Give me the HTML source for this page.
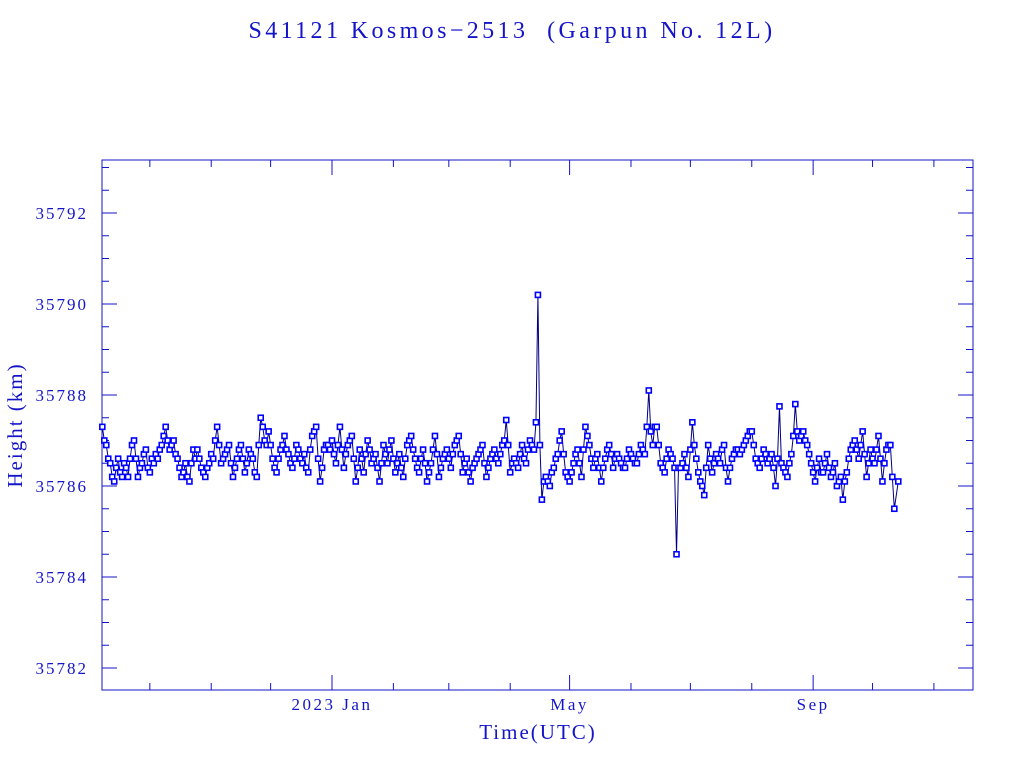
<!DOCTYPE html>
<html><head><meta charset="utf-8"><style>
html,body{margin:0;padding:0;background:#fff;}
svg text{font-family:"Liberation Serif",serif;fill:#1414c8;}
</style></head><body>
<svg id="chart" width="1024" height="768" xmlns="http://www.w3.org/2000/svg">
<text x="512" y="38" text-anchor="middle" font-size="24" letter-spacing="3.4" style="white-space:pre">S41121 Kosmos−2513  (Garpun No. 12L)</text>
<text x="538" y="739" text-anchor="middle" font-size="21" letter-spacing="2">Time(UTC)</text>
<text transform="translate(22,425) rotate(-90)" text-anchor="middle" font-size="21" letter-spacing="2">Height (km)</text>
<g id="plot"></g>
</svg>
<script>
const startDay = -116;   // days relative to 2023 Jan 1
const stepDays = 2;
const heights = [
35787.3,35786.9,35786.5,35786.1,35786.6,35786.2,35786.4,35786.6,35787.0,35786.2,
35786.5,35786.8,35786.3,35786.5,35786.6,35786.9,35787.3,35786.8,35787.0,35786.6,
35786.2,35786.5,35786.1,35786.8,35786.8,35786.4,35786.2,35786.5,35786.6,35787.3,
35786.5,35786.7,35786.9,35786.2,35786.6,35786.9,35786.3,35786.8,35786.6,35786.2,
35787.5,35787.0,35787.2,35786.6,35786.3,35786.8,35787.1,35786.7,35786.4,35786.9,
35786.6,35786.7,35786.3,35787.1,35787.3,35786.1,35786.8,35786.9,35787.0,35786.5,
35787.3,35786.4,35786.9,35787.1,35786.1,35786.8,35786.3,35787.0,35786.5,35786.7,
35786.1,35786.9,35786.5,35787.0,35786.3,35786.7,35786.2,35786.9,35787.1,35786.6,
35786.3,35786.8,35786.1,35786.5,35787.1,35786.2,35786.6,35786.8,35786.4,35786.9,
35787.1,35786.3,35786.6,35786.1,35786.5,35786.7,35786.9,35786.2,35786.6,35786.8,
35786.5,35786.9,35787.45,35786.3,35786.6,35786.4,35786.9,35786.5,35787.0,35786.8,
35790.2,35785.7,35786.2,35786.0,35786.4,35786.7,35787.2,35786.3,35786.1,35786.5,
35786.8,35786.2,35787.3,35786.9,35786.4,35786.7,35786.1,35786.6,35786.9,35786.4,
35786.7,35786.5,35786.4,35786.8,35786.6,35786.5,35786.9,35786.7,35788.1,35786.9,
35787.3,35786.5,35786.3,35786.8,35786.6,35784.5,35786.4,35786.7,35786.2,35787.4,
35786.6,35786.1,35785.8,35786.9,35786.3,35786.7,35786.5,35786.9,35786.1,35786.6,
35786.8,35786.7,35786.9,35787.1,35787.2,35786.6,35786.4,35786.8,35786.5,35786.7,
35786.0,35787.75,35786.4,35786.2,35786.7,35787.8,35787.0,35787.2,35786.9,35786.5,
35786.1,35786.6,35786.3,35786.7,35786.2,35786.5,35786.1,35785.7,35786.3,35786.8,
35787.0,35786.6,35787.2,35786.2,35786.8,35786.5,35787.1,35786.1,35786.8,35786.9,
35785.5,35786.1
];
// intermediate observations (odd days, startDay+1 + i*2)
const heightsOdd = [
35787.0,35786.6,35786.2,35786.4,35786.3,35786.5,35786.2,35786.9,35786.6,35786.4,
35786.7,35786.4,35786.6,35786.7,35786.8,35787.1,35787.0,35786.9,35786.7,35786.4,
35786.3,35786.2,35786.5,35786.6,35786.6,35786.3,35786.4,35786.7,35787.0,35786.9,
35786.6,35786.8,35786.5,35786.4,35786.8,35786.6,35786.5,35786.7,35786.3,35786.9,
35787.3,35786.9,35786.9,35786.4,35786.6,35786.9,35786.8,35786.5,35786.6,35786.8,
35786.5,35786.4,35786.8,35787.2,35786.6,35786.4,35786.9,35786.8,35786.7,35786.9,
35786.8,35786.7,35787.0,35786.6,35786.4,35786.6,35786.7,35786.8,35786.6,35786.4,
35786.5,35786.7,35786.8,35786.6,35786.5,35786.4,35786.6,35787.0,35786.8,35786.4,
35786.6,35786.5,35786.3,35786.8,35786.7,35786.4,35786.7,35786.6,35786.7,35787.0,
35786.7,35786.5,35786.3,35786.4,35786.6,35786.8,35786.5,35786.4,35786.7,35786.6,
35786.7,35787.0,35786.9,35786.5,35786.5,35786.7,35786.6,35786.8,35786.9,35787.4,
35786.9,35786.1,35786.1,35786.3,35786.6,35787.0,35786.7,35786.2,35786.3,35786.7,
35786.5,35786.8,35787.1,35786.6,35786.6,35786.4,35786.4,35786.8,35786.7,35786.6,
35786.6,35786.4,35786.6,35786.7,35786.5,35786.7,35786.8,35787.3,35787.2,35787.3,
35786.9,35786.4,35786.6,35786.7,35786.4,35786.4,35786.5,35786.4,35786.8,35786.9,
35786.3,35786.0,35786.4,35786.6,35786.5,35786.6,35786.8,35786.4,35786.4,35786.7,
35786.8,35786.8,35787.0,35787.2,35786.9,35786.5,35786.6,35786.7,35786.6,35786.4,
35786.6,35786.5,35786.3,35786.5,35787.1,35787.2,35787.1,35787.0,35786.7,35786.3,
35786.4,35786.3,35786.5,35786.4,35786.3,35786.0,35786.2,35786.1,35786.6,35786.9,
35786.8,35786.9,35786.7,35786.5,35786.6,35786.8,35786.6,35786.5,35786.9,35786.2
];
const yTicks = [35782,35784,35786,35788,35790,35792];
const xMajorLabels = ["2023 Jan","May","Sep"];
const xMajorDays = [0,120,243];
const monthDays = [-92,-61,-31,0,31,59,90,120,151,181,212,243,273,304];

const L=102,R=973,T=160,B=690;
const x0=332, pxPerDay=1.98;
const yAt35792=213, pxPerKm=45.5;
const X=d=>x0+d*pxPerDay;
const Y=v=>yAt35792+(35792-v)*pxPerKm;
const NS="http://www.w3.org/2000/svg";
const g=document.getElementById('plot');
function mk(tag,attrs){const e=document.createElementNS(NS,tag);for(const k in attrs)e.setAttribute(k,attrs[k]);g.appendChild(e);return e;}
const C="#1414c8";

const frame=mk('rect',{x:L,y:T,width:R-L,height:B-T,fill:'none',stroke:C,'stroke-width':1});



for(let v=35781.5; v<=35793.1; v+=0.5){
  const y=Y(v); if(y<T||y>B) continue;
  const major=Math.abs(v-Math.round(v/2)*2)<1e-6;
  const len=major?15:7;
  const t1=mk('line',{x1:L,y1:y,x2:L+len,y2:y,stroke:C});
  
  
  const t2=mk('line',{x1:R,y1:y,x2:R-len,y2:y,stroke:C});
  
  
}
yTicks.forEach(v=>{
  const t=mk('text',{x:88,y:Y(v)+6,'text-anchor':'end','font-size':17,'letter-spacing':2});
  t.textContent=v;
  
  
});
monthDays.forEach(d=>{
  const x=X(d); const major=xMajorDays.includes(d); const len=major?15:7;
  const t1=mk('line',{x1:x,y1:B,x2:x,y2:B-len,stroke:C});
  
  
  const t2=mk('line',{x1:x,y1:T,x2:x,y2:T+len,stroke:C});
  
  
});
xMajorLabels.forEach((s,i)=>{
  const t=mk('text',{x:X(xMajorDays[i]),y:710,'text-anchor':'middle','font-size':17,'letter-spacing':2.5});
  t.textContent=s;
  
  
});

const series=[];
heights.forEach((v,i)=>series.push([startDay+i*stepDays,v]));
heightsOdd.forEach((v,i)=>series.push([startDay+1+i*stepDays,v]));
series.sort((a,b)=>a[0]-b[0]);
const pts=series.map(s=>[X(s[0]),Y(s[1])]);
const line=mk('polyline',{points:pts.map(p=>p.join(',')).join(' '),fill:'none',stroke:'#000080','stroke-width':1});


pts.forEach(p=>{
  const r=mk('rect',{x:p[0]-2.5,y:p[1]-2.5,width:5,height:5,fill:'#fff',stroke:'#0000ff','stroke-width':1.6});
  
  
});
</script>
</body></html>
